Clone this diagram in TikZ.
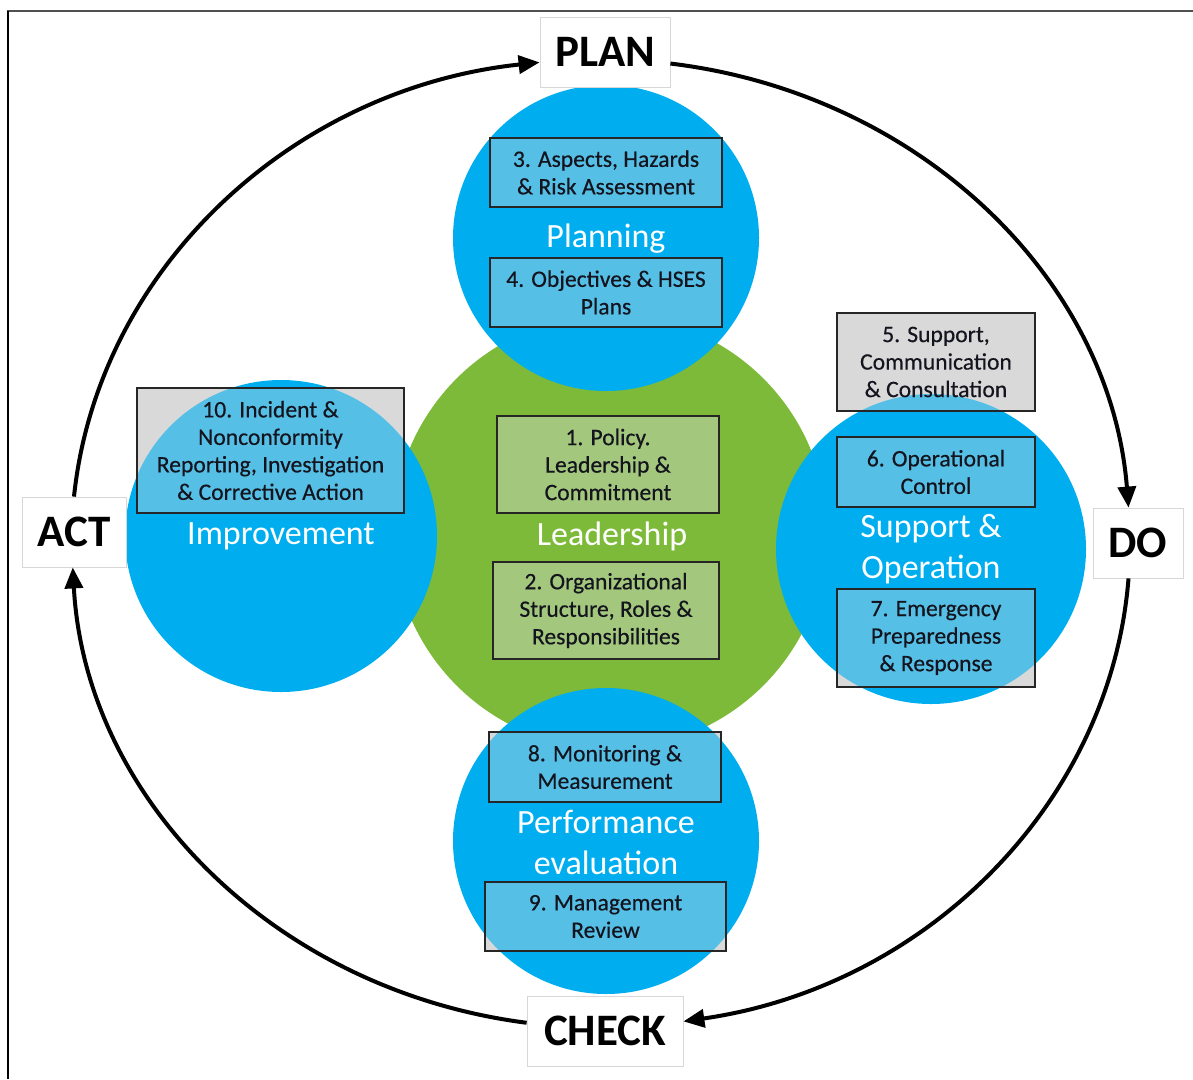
\documentclass[tikz,border=0pt]{standalone}
\usepackage{fontspec}
\setmainfont{Carlito}
\newfontfamily\boxfam[FakeBold=0.4]{Carlito}
\usetikzlibrary{arrows.meta}
\definecolor{cblue}{RGB}{0,174,239}
\definecolor{cgreen}{RGB}{125,186,57}
\definecolor{cgray}{RGB}{217,217,217}
\definecolor{ctext}{RGB}{20,20,30}
\definecolor{cframe}{RGB}{80,80,80}
\definecolor{clabelborder}{RGB}{215,215,215}
\newcommand\myboxfont{\boxfam\fontsize{23.6}{27.5}\selectfont}
\newcommand\mylblfont{\fontsize{34}{41}\selectfont}
\newcommand\mypdcafont{\fontsize{45}{50}\selectfont\bfseries}
\tikzset{
  bluecirc/.style={circle, fill=cblue, draw=none, inner sep=0pt, minimum size=#1},
  greencirc/.style={circle, fill=cgreen, draw=none, inner sep=0pt, minimum size=#1},
  circlbl/.style={text=white, font=\mylblfont, align=center, inner sep=0pt},
  boxbg/.style={rectangle, fill=cgray, draw=none, inner sep=0pt},
  boxtxt/.style={rectangle, draw=black!85, line width=1.3pt, inner sep=0pt, text=ctext, font=\myboxfont, align=center},
  pdca/.style={rectangle, fill=white, draw=clabelborder, line width=0.8pt, inner sep=0pt, minimum height=70pt, font=\mypdcafont, text=black},
  cycle/.style={line width=4pt, -{Triangle[length=21pt,width=18pt]}},
}
\begin{document}
\begin{tikzpicture}[x=1pt,y=-1pt]
\useasboundingbox (0,0) rectangle (1193,1079);
% frame
\draw[cframe, line width=2.5pt] (7,11) -- (1193,11);
\draw[black, line width=2.5pt] (8,11) -- (8,1079);

% circles
\node[greencirc=434pt] (cL) at (610,532) {};
\node[circlbl] (lL) at (612,536) {Leadership};
\node[bluecirc=306pt] (cP) at (606,238) {};
\node[circlbl] (lP) at (606,239) {Planning};
\node[bluecirc=312pt] (cI) at (281,536) {};
\node[circlbl] (lI) at (281,536) {Improvement};
\node[bluecirc=310pt] (cS) at (931,549) {};
\node[circlbl] (lS) at (931,549) {Support \&\\Operation};
\node[bluecirc=306pt] (cE) at (606,841) {};
\node[circlbl] (lE) at (606,842) {Performance\\evaluation};

% box backgrounds
\node[boxbg, minimum width=232pt, minimum height=69pt] (b3) at (606,172.5) {};
\node[boxbg, minimum width=232pt, minimum height=69pt] (b4) at (606,292.5) {};
\node[boxbg, minimum width=198pt, minimum height=98pt] (b5) at (936,362) {};
\node[boxbg, minimum width=198pt, minimum height=70pt] (b6) at (936,472) {};
\node[boxbg, minimum width=198pt, minimum height=98pt] (b7) at (936,638) {};
\node[boxbg, minimum width=267pt, minimum height=125pt] (b10) at (270.5,450.5) {};
\node[boxbg, minimum width=222pt, minimum height=97pt] (b1) at (608,464.5) {};
\node[boxbg, minimum width=226pt, minimum height=97pt] (b2) at (606,610.5) {};
\node[boxbg, minimum width=232pt, minimum height=70pt] (b8) at (605,767) {};
\node[boxbg, minimum width=241pt, minimum height=69pt] (b9) at (605.5,916.5) {};

% tint of the circles seen through the boxes
\begin{scope}
  \clip (b1.south west) rectangle (b1.north east)
        (b2.south west) rectangle (b2.north east)
        (b3.south west) rectangle (b3.north east)
        (b4.south west) rectangle (b4.north east)
        (b5.south west) rectangle (b5.north east)
        (b6.south west) rectangle (b6.north east)
        (b7.south west) rectangle (b7.north east)
        (b8.south west) rectangle (b8.north east)
        (b9.south west) rectangle (b9.north east)
        (b10.south west) rectangle (b10.north east);
  \fill[cgreen, opacity=0.58] (cL.center) circle[radius=217];
  \foreach \c/\r in {cP/153, cI/156, cS/155, cE/153}{
    \fill[cgray] (\c.center) circle[radius=\r];
    \fill[cblue, opacity=0.6] (\c.center) circle[radius=\r];
  }
\end{scope}

% box frames and texts
\node[boxtxt, minimum width=232pt, minimum height=69pt] (t3) at (b3) {3. Aspects, Hazards\\\& Risk Assessment};
\node[boxtxt, minimum width=232pt, minimum height=69pt] (t4) at (b4) {4. Objectives \& HSES\\Plans};
\node[boxtxt, minimum width=198pt, minimum height=98pt] (t5) at (b5) {5. Support,\\Communication\\\& Consultation};
\node[boxtxt, minimum width=198pt, minimum height=70pt] (t6) at (b6) {6. Operational\\Control};
\node[boxtxt, minimum width=198pt, minimum height=98pt] (t7) at (b7) {7. Emergency\\Preparedness\\\& Response};
\node[boxtxt, minimum width=267pt, minimum height=125pt] (t10) at (b10) {10. Incident \&\\Nonconformity\\Reporting, Investigation\\\& Corrective Action};
\node[boxtxt, minimum width=222pt, minimum height=97pt] (t1) at (b1) {1. Policy.\\Leadership \&\\Commitment};
\node[boxtxt, minimum width=226pt, minimum height=97pt] (t2) at (b2) {2. Organizational\\Structure, Roles \&\\Responsibilities};
\node[boxtxt, minimum width=232pt, minimum height=70pt] (t8) at (b8) {8. Monitoring \&\\Measurement};
\node[boxtxt, minimum width=241pt, minimum height=69pt] (t9) at (b9) {9. Management\\Review};

% PDCA labels
\node[pdca, minimum width=130pt] (plan) at (605,52) {PLAN};
\node[pdca, minimum width=90pt] (do) at (1138,543) {DO};
\node[pdca, minimum width=156pt] (check) at (605,1031) {CHECK};
\node[pdca, minimum width=104pt] (act) at (74,532) {ACT};

% cycle arrows
\draw[cycle] (act.north) .. controls +(23.7,-227.1) and +(-247.7,26.3) .. (plan.189);
\draw[cycle] (plan.350) .. controls +(248.9,30.0) and +(-18.2,-229.1) .. (do.105);
\draw[cycle] (do.255) .. controls +(-17.8,224.6) and +(243.2,-34.9) .. (check.7);
\draw[cycle] (check.174) .. controls +(-251.3,-32.3) and +(12.6,231.9) .. (act.268);
\end{tikzpicture}
\end{document}
